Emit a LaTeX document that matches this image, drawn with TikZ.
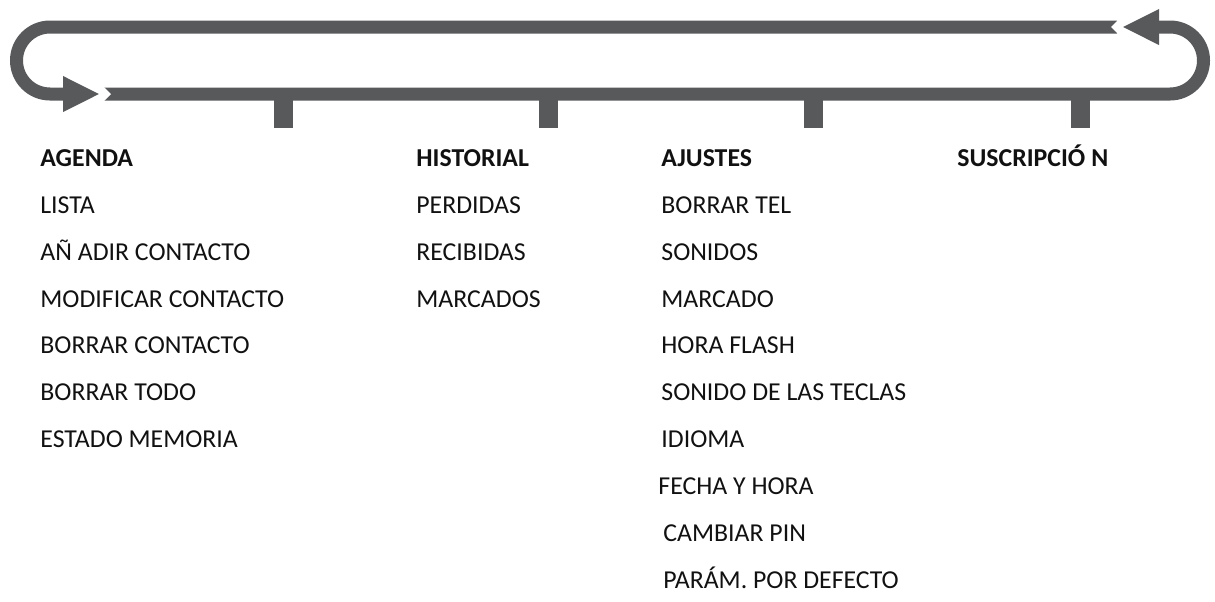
\documentclass[tikz,border=0pt]{standalone}
\usepackage{fontspec}
\setmainfont{Carlito}
\usetikzlibrary{arrows.meta}
\definecolor{loopgray}{HTML}{58595B}
\definecolor{txt}{HTML}{111111}
\tikzset{
  loopline/.style={draw=loopgray, line width=6.5pt},
  looptip/.style={-{Triangle[length=18.5pt,width=16.5pt]}},
  tickbar/.style={draw=loopgray, line width=9.5pt},
  hdr/.style={anchor=base west, inner sep=0pt, text=txt, font=\fontsize{12.9}{15}\selectfont\bfseries},
  itm/.style={anchor=base west, inner sep=0pt, text=txt, font=\fontsize{12.9}{15}\selectfont},
}
\begin{document}
\begin{tikzpicture}[x=0.5pt,y=-0.5pt]
\useasboundingbox (0,0) rectangle (1215,601);
% loop
\coordinate (aS) at (1117,27);
\coordinate (aL) at (50,27);
\coordinate (aE) at (100,94);
\coordinate (bS) at (102,94);
\coordinate (bR) at (1170,94);
\coordinate (bE) at (1122,27);
\draw[loopline,looptip] (aS) -- (aL) arc[start angle=270,end angle=90,radius=33.5] -- (aE);
\draw[loopline,looptip] (bS) -- (bR) arc[start angle=90,end angle=-90,radius=33.5] -- (bE);
\fill[white] (101,84) -- (111,94) -- (101,104) -- cycle;
\fill[white] (1121,17) -- (1111,27) -- (1121,37) -- cycle;
% ticks
\foreach \x/\n in {283/t1,548/t2,813/t3,1080/t4}{
  \coordinate (\n a) at (\x,94);
  \coordinate (\n b) at (\x,128);
  \draw[tickbar] (\n a) -- (\n b);
}
% column 1
\node[hdr] (agenda) at (40,166) {AGENDA};
\node[itm] (a1) at (40,213) {LISTA};
\node[itm] (a2) at (40,260) {AÑ ADIR CONTACTO};
\node[itm] (a3) at (40,307) {MODIFICAR CONTACTO};
\node[itm] (a4) at (40,353) {BORRAR CONTACTO};
\node[itm] (a5) at (40,400) {BORRAR TODO};
\node[itm] (a6) at (40,447) {ESTADO MEMORIA};
% column 2
\node[hdr] (hist) at (416,166) {HISTORIAL};
\node[itm] (h1) at (416,213) {PERDIDAS};
\node[itm] (h2) at (416,260) {RECIBIDAS};
\node[itm] (h3) at (416,307) {MARCADOS};
% column 3
\node[hdr] (aj) at (661,166) {AJUSTES};
\node[itm] (j1) at (661,213) {BORRAR TEL};
\node[itm] (j2) at (661,260) {SONIDOS};
\node[itm] (j3) at (661,307) {MARCADO};
\node[itm] (j4) at (661,353) {HORA FLASH};
\node[itm] (j5) at (661,400) {SONIDO DE LAS TECLAS};
\node[itm] (j6) at (661,447) {IDIOMA};
\node[itm] (j7) at (658,494) {FECHA Y HORA};
\node[itm] (j8) at (663,541) {CAMBIAR PIN};
\node[itm] (j9) at (663,588) {PARÁM. POR DEFECTO};
% column 4
\node[hdr] (sus) at (957,166) {SUSCRIPCIÓ N};
\end{tikzpicture}
\end{document}
